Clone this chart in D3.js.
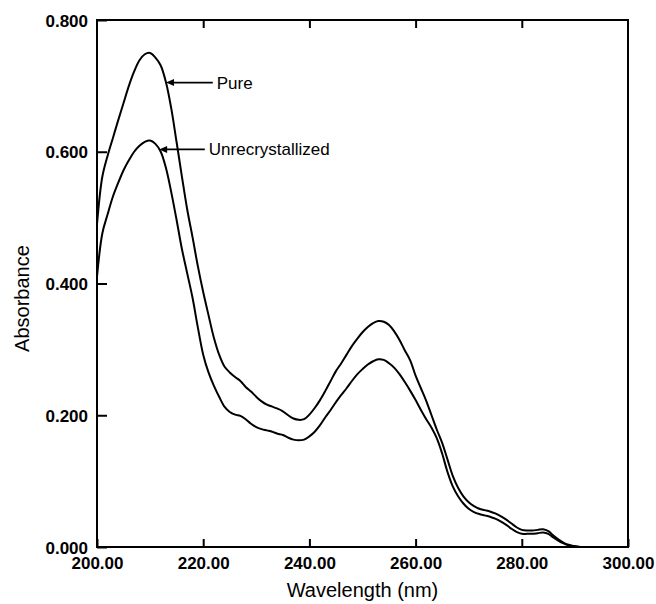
<!DOCTYPE html>
<html>
<head>
<meta charset="utf-8">
<script src="https://cdn.jsdelivr.net/npm/d3@7"></script>
<style>
  html, body { margin: 0; padding: 0; background: #fff; }
  svg { display: block; }
</style>
</head>
<body>
<div id="chart"></div>
<script>
// ---- data ----
const wavelengths = d3.range(200, 301, 1);
const pure = [
  0.490, 0.562, 0.594, 0.621, 0.648, 0.674, 0.700, 0.722, 0.739, 0.748,
  0.750, 0.743, 0.731, 0.705, 0.665, 0.614, 0.562, 0.512, 0.470, 0.426,
  0.387, 0.352, 0.318, 0.292, 0.274, 0.265, 0.258, 0.252, 0.243, 0.236,
  0.228, 0.221, 0.216, 0.213, 0.210, 0.206, 0.200, 0.195, 0.193, 0.194,
  0.201, 0.211, 0.223, 0.237, 0.252, 0.267, 0.279, 0.292, 0.305, 0.316,
  0.326, 0.334, 0.340, 0.343, 0.342, 0.337, 0.327, 0.314, 0.298, 0.283,
  0.260, 0.241, 0.222, 0.200, 0.178, 0.158, 0.133, 0.108, 0.090, 0.077,
  0.068, 0.062, 0.058, 0.056, 0.054, 0.051, 0.047, 0.042, 0.036, 0.030,
  0.026, 0.025, 0.025, 0.026, 0.027, 0.024, 0.017, 0.011, 0.006, 0.003,
  0.001, 0.000, 0.000, 0.000, 0.000, 0.000, 0.000, 0.000, 0.000, 0.000, 0.000
];
const unrecrystallized = [
  0.410, 0.476, 0.505, 0.532, 0.553, 0.572, 0.587, 0.600, 0.609, 0.615,
  0.617, 0.612, 0.600, 0.575, 0.538, 0.496, 0.452, 0.415, 0.378, 0.333,
  0.292, 0.265, 0.245, 0.228, 0.213, 0.205, 0.201, 0.199, 0.194, 0.187,
  0.182, 0.179, 0.177, 0.175, 0.172, 0.170, 0.166, 0.163, 0.162, 0.163,
  0.168, 0.175, 0.185, 0.197, 0.208, 0.220, 0.231, 0.241, 0.252, 0.262,
  0.270, 0.277, 0.282, 0.285, 0.284, 0.279, 0.272, 0.262, 0.250, 0.237,
  0.223, 0.208, 0.194, 0.181, 0.165, 0.142, 0.114, 0.092, 0.077, 0.066,
  0.058, 0.053, 0.050, 0.048, 0.046, 0.043, 0.039, 0.034, 0.028, 0.023,
  0.020, 0.020, 0.020, 0.021, 0.022, 0.020, 0.014, 0.009, 0.005, 0.002,
  0.001, 0.000, 0.000, 0.000, 0.000, 0.000, 0.000, 0.000, 0.000, 0.000, 0.000
];
const xTicks = [200, 220, 240, 260, 280, 300];
const yTicks = [0, 0.2, 0.4, 0.6, 0.8];
const labelNames = ["Pure", "Unrecrystallized"];
const labelTipX = [213, 211.7];     // wavelength where arrow touches curve
const labelTailX = [221.8, 220.3];  // wavelength where arrow line starts
const xTitle = "Wavelength (nm)";
const yTitle = "Absorbance";

// ---- layout ----
const W = 656, H = 604;
const m = { left: 97, right: 28, top: 20, bottom: 57 };
const iw = W - m.left - m.right, ih = H - m.top - m.bottom;

const svg = d3.select("#chart").append("svg").attr("width", W).attr("height", H);
const g = svg.append("g").attr("transform", `translate(${m.left},${m.top})`);

const x = d3.scaleLinear().domain([200, 300]).range([0, iw]);
const y = d3.scaleLinear().domain([0, 0.8]).range([ih, 0]);

const tickFont = "'Liberation Sans', Arial, sans-serif";

// bottom axis (ticks inward)
const xAxis = g.append("g").attr("transform", `translate(0,${ih})`)
  .call(d3.axisBottom(x).tickValues(xTicks).tickSize(-8).tickSizeOuter(0).tickPadding(13)
    .tickFormat(d3.format(".2f")));
// top axis ticks
const xAxisTop = g.append("g")
  .call(d3.axisTop(x).tickValues(xTicks.slice(1, -1)).tickSize(-8).tickSizeOuter(0).tickFormat(""));
// left axis
const yAxis = g.append("g")
  .call(d3.axisLeft(y).tickValues(yTicks).tickSize(-10).tickSizeOuter(0).tickPadding(9)
    .tickFormat(d3.format(".3f")));

[xAxis, xAxisTop, yAxis].forEach(a => {
  a.select(".domain").remove();
  a.selectAll(".tick line").attr("stroke", "#000").attr("stroke-width", 2);
  a.selectAll(".tick text").attr("fill", "#000")
    .style("font-family", tickFont).style("font-weight", "bold").style("font-size", "17px");
});
xAxis.selectAll(".tick text").attr("dy", "0.71em").attr("y", 10);
yAxis.selectAll(".tick text").attr("dy", "0.36em");

// frame
g.append("rect").attr("x", 0).attr("y", 0).attr("width", iw).attr("height", ih)
  .attr("fill", "none").attr("stroke", "#000").attr("stroke-width", 2);

// curves
const line = d3.line().x((d, i) => x(wavelengths[i])).y(d => y(d)).curve(d3.curveCatmullRom);
[pure, unrecrystallized].forEach(series => {
  g.append("path").datum(series).attr("d", line)
    .attr("fill", "none").attr("stroke", "#000").attr("stroke-width", 2)
    .attr("stroke-linejoin", "round");
});

// annotations
const interp = (series, wl) => {
  const i = Math.floor(wl - 200), t = wl - 200 - i;
  return series[i] * (1 - t) + series[i + 1] * t;
};
[pure, unrecrystallized].forEach((series, k) => {
  const tipX = x(labelTipX[k]);
  const tipY = y(interp(series, labelTipX[k]));
  const tailX = x(labelTailX[k]);
  g.append("line").attr("x1", tipX + 6).attr("y1", tipY).attr("x2", tailX).attr("y2", tipY)
    .attr("stroke", "#000").attr("stroke-width", 1.6);
  g.append("path")
    .attr("d", `M${tipX},${tipY} L${tipX + 8},${tipY - 3.5} L${tipX + 8},${tipY + 3.5} Z`)
    .attr("fill", "#000");
  g.append("text").attr("x", tailX + 4).attr("y", tipY).attr("dy", "0.36em")
    .style("font-family", tickFont).style("font-size", "17px").attr("fill", "#000")
    .text(labelNames[k]);
});

// axis titles
svg.append("text").attr("x", m.left + iw / 2).attr("y", 597).attr("text-anchor", "middle")
  .style("font-family", tickFont).style("font-size", "20px").attr("fill", "#000").text(xTitle);
svg.append("text").attr("transform", `translate(29,${m.top + ih / 2 + 15}) rotate(-90)`)
  .attr("text-anchor", "middle")
  .style("font-family", tickFont).style("font-size", "20px").attr("fill", "#000").text(yTitle);
</script>
</body>
</html>
